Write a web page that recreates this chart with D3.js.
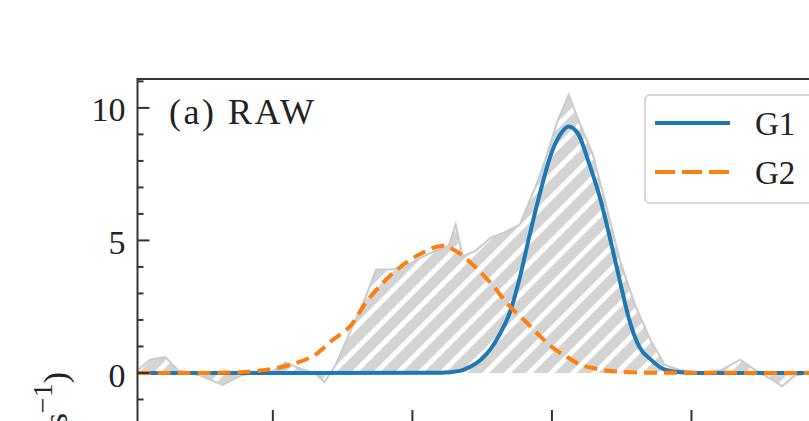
<!DOCTYPE html>
<html><head><meta charset="utf-8">
<script src="https://cdn.jsdelivr.net/npm/d3@7"></script>
<style>html,body{margin:0;padding:0;background:#fff;overflow:hidden}</style>
</head><body>
<svg id="chart" width="809" height="421"></svg>
<script>
// ---- data (x in axis units, ticks at 1..4) ----
const rawX = [0.03,0.12,0.23,0.32,0.48,0.64,0.77,0.89,0.98,1.09,1.20,1.30,1.37,1.45,1.55,1.66,1.74,1.84,1.95,2.04,2.16,2.26,2.31,2.36,2.45,2.56,2.66,2.77,2.88,2.95,3.04,3.12,3.20,3.29,3.38,3.49,3.60,3.71,3.81,3.92,4.06,4.21,4.35,4.46,4.56,4.65,4.74,4.85,5.00];
const rawY = [0.1,0.5,0.6,0.1,-0.1,-0.45,-0.1,0.05,0.0,0.4,0.15,0.0,-0.35,0.3,1.5,2.8,3.9,3.9,4.0,4.3,4.6,4.8,5.6,4.4,4.6,5.1,5.3,5.6,7.0,8.0,9.5,10.5,9.4,8.3,6.5,4.2,2.5,1.2,0.3,0.1,0.0,0.1,0.5,0.1,-0.2,-0.5,-0.1,0.0,0.05];

const g1X = [0.03,1.20,2.20,2.34,2.41,2.49,2.56,2.63,2.70,2.77,2.84,2.92,2.99,3.06,3.12,3.19,3.26,3.35,3.42,3.49,3.56,3.63,3.71,3.78,3.88,4.06,5.00];
const g1Y = [0,0,0.01,0.08,0.22,0.5,0.9,1.5,2.3,3.6,5.2,6.9,8.2,9.0,9.3,9.0,8.0,6.5,5.0,3.4,1.9,0.95,0.5,0.2,0.05,0,0];

const g2X = [0.03,0.48,0.77,0.93,1.12,1.32,1.43,1.56,1.66,1.77,1.89,2.06,2.22,2.34,2.45,2.56,2.70,2.82,2.92,3.02,3.11,3.20,3.30,3.47,3.71,5.00];
const g2Y = [0,0,0.03,0.1,0.3,0.75,1.25,1.8,2.6,3.3,3.9,4.5,4.8,4.5,4.0,3.4,2.5,1.9,1.36,0.9,0.6,0.32,0.18,0.05,0.01,0];

const xTickValues = [1,2,3,4];
const yMajorTicks = [0,5,10];
const yMinorTicks = [-1,1,2,3,4,6,7,8,9,11];
const seriesNames = ["G1","G2"];
const panelLabel = "(a) RAW";

// ---- layout ----
const L = 137.5, T = 79, R = 831, B = 422;
const x = d3.scaleLinear().domain([0.03, 5.0]).range([L, R]);
const y = d3.scaleLinear().domain([-1.85, 11.09]).range([B, T]);

const svg = d3.select("#chart");
const defs = svg.append("defs");
defs.append("clipPath").attr("id","clip").append("rect")
  .attr("x",L).attr("y",T).attr("width",R-L).attr("height",B-T);
const pat = defs.append("pattern").attr("id","hatch")
  .attr("patternUnits","userSpaceOnUse").attr("width",15.5).attr("height",15.5)
  .attr("patternTransform","rotate(45)");
pat.append("rect").attr("width",15.5).attr("height",15.5).attr("fill","#d4d4d4");
pat.append("rect").attr("x",0).attr("width",5).attr("height",15.5).attr("fill","#ffffff");

const plot = svg.append("g").attr("clip-path","url(#clip)");
const raw = rawX.map((d,i)=>[d, rawY[i]]);
plot.append("path").datum(raw)
  .attr("d", d3.area().x(d=>x(d[0])).y0(y(0)).y1(d=>y(d[1])))
  .attr("fill","url(#hatch)");
plot.append("path").datum(raw)
  .attr("d", d3.line().x(d=>x(d[0])).y(d=>y(d[1])))
  .attr("fill","none").attr("stroke","#cbcbcb").attr("stroke-width",2);

const g1 = g1X.map((d,i)=>[d,g1Y[i]]);
const g2 = g2X.map((d,i)=>[d,g2Y[i]]);
const line = d3.line().x(d=>x(d[0])).y(d=>y(d[1])).curve(d3.curveMonotoneX);
plot.append("path").datum(g1).attr("d",line)
  .attr("fill","none").attr("stroke","#1f77b4").attr("stroke-width",4);
plot.append("path").datum(g2).attr("d",line)
  .attr("fill","none").attr("stroke","#ff7f0e").attr("stroke-width",4)
  .attr("stroke-dasharray","13,7");

// ---- axes (inward ticks) ----
const ax = svg.append("g").attr("stroke","#333").attr("stroke-width",2);
yMajorTicks.forEach(v=>ax.append("line").attr("x1",L).attr("x2",L+12).attr("y1",y(v)).attr("y2",y(v)));
yMinorTicks.forEach(v=>ax.append("line").attr("x1",L).attr("x2",L+6).attr("y1",y(v)).attr("y2",y(v)));
xTickValues.forEach(v=>ax.append("line").attr("x1",x(v)).attr("x2",x(v)).attr("y1",B).attr("y2",B-12));
svg.append("rect").attr("x",L).attr("y",T).attr("width",R-L).attr("height",B-T)
  .attr("fill","none").attr("stroke","#333").attr("stroke-width",2);

const font = "'Liberation Serif','Times New Roman',serif";
svg.append("g").selectAll("text").data(yMajorTicks).join("text")
  .attr("x", L-12).attr("y", d=>y(d)).attr("dy","0.4em")
  .attr("text-anchor","end").attr("font-family",font).attr("font-size",34)
  .attr("fill","#222").text(d=>d);

svg.append("text").attr("x",169).attr("y",124).attr("font-family",font)
  .attr("font-size",36).attr("letter-spacing",2.5).attr("fill","#222").text(panelLabel);

// y label (only its end is visible, as in the reference)
const yl = svg.append("text").attr("transform","translate(67,372) rotate(-90)")
  .attr("text-anchor","end").attr("font-family",font).attr("font-size",34).attr("fill","#222");
yl.append("tspan").text("Intensity (s");
yl.append("tspan").attr("baseline-shift","super").attr("font-size",28).text("\u22121");
yl.append("tspan").text(")");

// ---- legend ----
const lg = svg.append("g");
lg.append("rect").attr("x",645).attr("y",95).attr("width",175).attr("height",108)
  .attr("rx",5).attr("fill","#fff").attr("fill-opacity",0.85)
  .attr("stroke","#d6d6d6").attr("stroke-width",2);
const legendY = [123,172];
lg.append("line").attr("x1",655).attr("x2",730).attr("y1",legendY[0]).attr("y2",legendY[0])
  .attr("stroke","#1f77b4").attr("stroke-width",4);
lg.append("line").attr("x1",655).attr("x2",730).attr("y1",legendY[1]).attr("y2",legendY[1])
  .attr("stroke","#ff7f0e").attr("stroke-width",4).attr("stroke-dasharray","20,7");
seriesNames.forEach((n,i)=>lg.append("text").attr("x",755).attr("y",legendY[i]).attr("dy","0.36em")
  .attr("font-family",font).attr("font-size",33).attr("fill","#222").text(n));
</script>
</body></html>
